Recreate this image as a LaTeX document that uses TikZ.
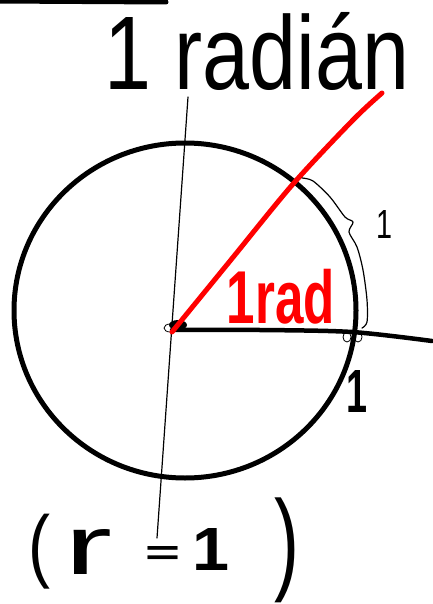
\documentclass[tikz,border=0pt]{standalone}
\usepackage{fontspec}
\setsansfont{Liberation Sans}
\usepackage{graphicx}
\begin{document}
\begin{tikzpicture}[x=1pt,y=-1pt,
  thickline/.style={line width=5pt, line cap=round, line join=round},
  thinline/.style={line width=1.2pt, line cap=round, line join=round},
  hand/.style={inner sep=0pt, font=\sffamily}]
\useasboundingbox (0,0) rectangle (432,604);
% top-left bar
\draw[line width=5pt, line cap=round] (-3,1) -- (166,2);
% vertical thin line
\coordinate (vtop) at (188,97);
\coordinate (vbot) at (157,538);
\draw[thinline] (vtop) -- (vbot);
% circle
\coordinate (c) at (185,310.5);
\draw[thickline] (c) ellipse [x radius=171, y radius=167.5];
% horizontal radius
\coordinate (o) at (172,330);
\draw[line width=4.5pt, line cap=round] plot[smooth] coordinates {(o) (260,330) (352,332) (432,341)};
% small loops
\draw[line width=0.8pt] (347,337) ellipse [x radius=4, y radius=5];
\draw[line width=0.8pt] (358,337) ellipse [x radius=4, y radius=5];
% center blob
\fill (178,325) ellipse [x radius=9, y radius=5];
\draw[line width=0.8pt] (170,328) ellipse [x radius=6, y radius=4];
% red line
\draw[thickline, red] plot[smooth] coordinates {(172,332) (230,261) (293,184) (353,120) (382,93)};
% brace
\draw[thinline] plot[smooth] coordinates {(302,178) (313,181) (330,197) (345,217) (353,222) (349,232) (357,247) (363,270) (367,300) (367,322) (362,328)};
% texts
\node[hand] (title) at (257,51) {\resizebox*{305pt}{78pt}{1 radián}};
\node[hand, text=red] (rad) at (281,297) {\resizebox*{108pt}{55pt}{\bfseries 1rad}};
\node[hand] (arc1) at (384,224) {\resizebox*{16pt}{28pt}{1}};
\node[hand] (rad1) at (357,391) {\resizebox*{21pt}{42pt}{\bfseries 1}};
\node[hand] (lp) at (39,552) {\resizebox*{22pt}{75pt}{(}};
\node[hand] (r) at (89,552) {\resizebox*{48pt}{45pt}{r}};
\node[hand] (eq) at (163,555) {\resizebox*{35pt}{18pt}{\bfseries =}};
\node[hand] (one) at (211,549) {\resizebox*{37pt}{42pt}{\bfseries 1}};
\node[hand] (rp) at (287,550) {\resizebox*{25pt}{105pt}{)}};
\end{tikzpicture}
\end{document}
